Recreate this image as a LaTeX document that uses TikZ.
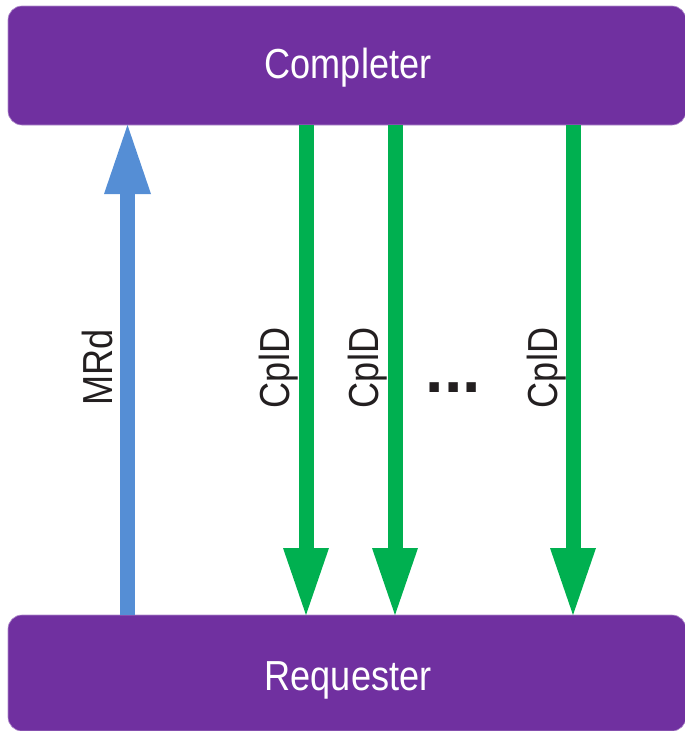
\documentclass[tikz,border=0pt]{standalone}
\usepackage{fontspec}
\setmainfont{Liberation Sans}
\newfontfamily\narrowfont[FakeStretch=0.86]{Liberation Sans}
\usetikzlibrary{arrows.meta}
\definecolor{boxpurple}{HTML}{7030A0}
\definecolor{reqblue}{HTML}{558ED5}
\definecolor{cplgreen}{HTML}{00B050}
\definecolor{labelgray}{HTML}{231F20}
\begin{document}
\begin{tikzpicture}[x=1pt,y=-1pt,
  panel/.style={fill=boxpurple, draw=boxpurple!55!white, line width=0.6pt, rounded corners=14pt, minimum width=678pt, inner sep=0pt, outer sep=0pt},
  paneltext/.style={text=white, font=\narrowfont\fontsize{42}{42}\selectfont, anchor=base, inner sep=0pt},
  lbl/.style={text=labelgray, font=\narrowfont\fontsize{42}{42}\selectfont, rotate=90, anchor=base, inner sep=0pt},
  flow/.style={line width=15pt},
  reqflow/.style={flow, draw=reqblue, -{Triangle[width=47pt,length=69pt,line width=0pt]}},
  cplflow/.style={flow, draw=cplgreen, -{Triangle[width=46pt,length=67pt,line width=0pt]}}]
\useasboundingbox (0,0) rectangle (685,731);
\node[panel, minimum height=119pt] (comp) at (347,65.5) {};
\node[panel, minimum height=116pt] (reqbox) at (347,673) {};
\node[paneltext] (comptext) at (348,78) {Completer};
\node[paneltext] (reqtext) at (348,690) {Requester};
\coordinate (xm) at (127.5,0);
\coordinate (xa) at (306,0);
\coordinate (xb) at (395,0);
\coordinate (xc) at (573,0);
\draw[reqflow] (xm |- reqbox.north) -- (xm |- comp.south);
\draw[cplflow] (xa |- comp.south) -- (xa |- reqbox.north);
\draw[cplflow] (xb |- comp.south) -- (xb |- reqbox.north);
\draw[cplflow] (xc |- comp.south) -- (xc |- reqbox.north);
\node[lbl] (mrd) at (112,367.5) {MRd};
\node[lbl] (cpla) at (289,368) {CplD};
\node[lbl] (cplb) at (378,368) {CplD};
\node[lbl] (cplc) at (557,368) {CplD};
\node[text=labelgray, font=\bfseries\fontsize{66}{66}\selectfont, anchor=base, inner sep=0pt] (dots) at (453.5,392) {...};
\end{tikzpicture}
\end{document}
